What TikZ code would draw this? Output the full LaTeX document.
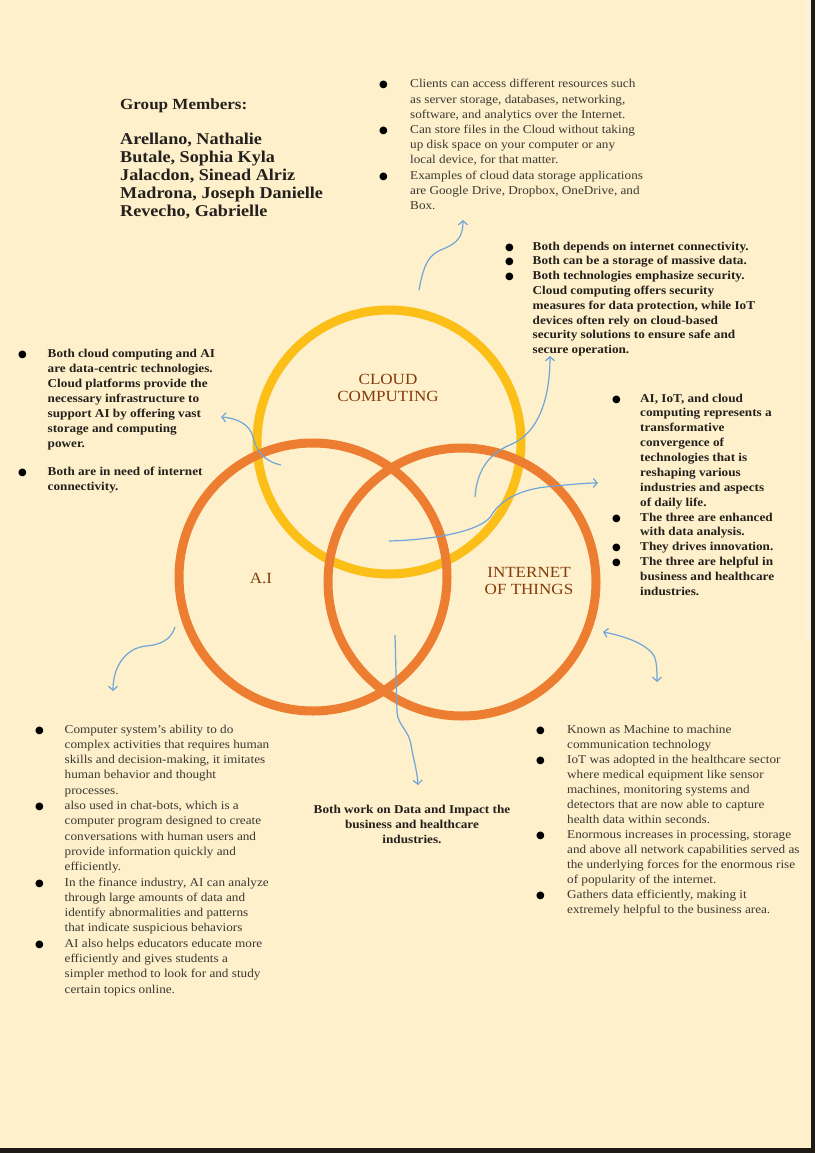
\documentclass[tikz,border=0pt]{standalone}
\usepackage{fontspec}
\setmainfont[FakeStretch=1.1]{Liberation Serif}
\newfontfamily\symfont{DejaVu Sans}
\usetikzlibrary{arrows.meta}

\definecolor{paper}{HTML}{FEF0CA}
\definecolor{strip}{HTML}{FBF2DA}
\definecolor{edge}{HTML}{1E1A16}
\definecolor{gold}{HTML}{FBBF17}
\definecolor{tangerine}{HTML}{ED7D31}
\definecolor{labelbrown}{HTML}{843C0C}
\definecolor{arrowblue}{HTML}{6FA5DA}
\definecolor{regtext}{HTML}{3B3834}
\definecolor{boldtext}{HTML}{23201D}

% big round list bullet, kept out of the line height
\newcommand\bul{\leavevmode\smash{\textcolor{black}{\symfont\fontsize{10}{10}\selectfont ●}}}

\begin{document}
\begin{tikzpicture}[x=1pt,y=-1pt,
  ring/.style={circle, draw, line width=9pt, inner sep=0pt, minimum size=#1},
  circlabel/.style={inner sep=0pt, anchor=base, text=labelbrown,
    font=\fontsize{15.5}{17}\selectfont},
  reglist/.style={inner sep=0pt, anchor=base west, text=regtext},
  boldlist/.style={inner sep=0pt, anchor=base west, text=boldtext},
  link/.style={draw=arrowblue, line width=1.2pt,
    arrows={-Straight Barb[length=4pt,width=9pt]}},
]
\useasboundingbox (0,0) rectangle (815,1153);

% page
\fill[paper] (0,0) rectangle (815,1153);
\fill[strip] (805,0) rectangle (811,640);
\fill[edge] (811,0) rectangle (815,1153);
\fill[edge] (0,1148) rectangle (815,1153);

% the three circles
\node[ring=264pt, draw=gold] (cloud) at (389,442) {};
\node[ring=268pt, draw=tangerine] (ai) at (313,577) {};
\node[ring=268pt, draw=tangerine] (iot) at (462,582) {};

% circle titles
\node[circlabel] (cloudtitle) at (388,384)
  {\begin{tabular}[t]{@{}c@{}}CLOUD\\COMPUTING\end{tabular}};
\node[circlabel] (aititle) at (261,583) {A.I};
\node[circlabel] (iottitle) at (529,577)
  {\begin{tabular}[t]{@{}c@{}}INTERNET\\OF THINGS\end{tabular}};

% group members
\node[boldlist, font=\bfseries\fontsize{16.5}{18}\selectfont] (members) at (120,110)
  {\begin{tabular}[t]{@{}l@{}}
   \fontsize{15.5}{18}\selectfont Group Members:\\[17pt]
   Arellano, Nathalie\\
   Butale, Sophia Kyla\\
   Jalacdon, Sinead Alriz\\
   Madrona, Joseph Danielle\\
   Revecho, Gabrielle
   \end{tabular}};

% cloud computing notes
\node[reglist, font=\fontsize{12}{15.2}\selectfont] (cloudnotes) at (379,88)
  {\begin{tabular}[t]{@{}p{31pt}@{}l@{}}
   \bul & Clients can access different resources such\\
        & as server storage, databases, networking,\\
        & software, and analytics over the Internet.\\
   \bul & Can store files in the Cloud without taking\\
        & up disk space on your computer or any\\
        & local device, for that matter.\\
   \bul & Examples of cloud data storage applications\\
        & are Google Drive, Dropbox, OneDrive, and\\
        & Box.
   \end{tabular}};

% cloud and IoT in common
\node[boldlist, font=\bfseries\fontsize{12}{14.8}\selectfont] (cloudiot) at (505,250)
  {\begin{tabular}[t]{@{}p{27.5pt}@{}l@{}}
   \bul & Both depends on internet connectivity.\\
   \bul & Both can be a storage of massive data.\\
   \bul & Both technologies emphasize security.\\
        & Cloud computing offers security\\
        & measures for data protection, while IoT\\
        & devices often rely on cloud-based\\
        & security solutions to ensure safe and\\
        & secure operation.
   \end{tabular}};

% cloud and AI in common
\node[boldlist, font=\bfseries\fontsize{12}{15.05}\selectfont] (cloudai) at (18,357)
  {\begin{tabular}[t]{@{}p{29.5pt}@{}l@{}}
   \bul & Both cloud computing and AI\\
        & are data-centric technologies.\\
        & Cloud platforms provide the\\
        & necessary infrastructure to\\
        & support AI by offering vast\\
        & storage and computing\\
        & power.\\[13pt]
   \bul & Both are in need of internet\\
        & connectivity.
   \end{tabular}};

% all three in common
\node[boldlist, font=\bfseries\fontsize{12}{14.88}\selectfont] (allthree) at (612,402)
  {\begin{tabular}[t]{@{}p{28pt}@{}l@{}}
   \bul & AI, IoT, and cloud\\
        & computing represents a\\
        & transformative\\
        & convergence of\\
        & technologies that is\\
        & reshaping various\\
        & industries and aspects\\
        & of daily life.\\
   \bul & The three are enhanced\\
        & with data analysis.\\
   \bul & They drives innovation.\\
   \bul & The three are helpful in\\
        & business and healthcare\\
        & industries.
   \end{tabular}};

% AI notes
\node[reglist, font=\fontsize{12}{15.3}\selectfont] (ainotes) at (35,733)
  {\begin{tabular}[t]{@{}p{29.5pt}@{}l@{}}
   \bul & Computer system’s ability to do\\
        & complex activities that requires human\\
        & skills and decision-making, it imitates\\
        & human behavior and thought\\
        & processes.\\
   \bul & also used in chat-bots, which is a\\
        & computer program designed to create\\
        & conversations with human users and\\
        & provide information quickly and\\
        & efficiently.\\
   \bul & In the finance industry, AI can analyze\\
        & through large amounts of data and\\
        & identify abnormalities and patterns\\
        & that indicate suspicious behaviors\\
   \bul & AI also helps educators educate more\\
        & efficiently and gives students a\\
        & simpler method to look for and study\\
        & certain topics online.
   \end{tabular}};

% AI and IoT in common
\node[boldlist, anchor=base, font=\bfseries\fontsize{12}{15}\selectfont] (aiiot) at (412,813)
  {\begin{tabular}[t]{@{}c@{}}
   Both work on Data and Impact the\\
   business and healthcare\\
   industries.
   \end{tabular}};

% IoT notes
\node[reglist, font=\fontsize{12}{15}\selectfont] (iotnotes) at (536,733)
  {\begin{tabular}[t]{@{}p{31pt}@{}l@{}}
   \bul & Known as Machine to machine\\
        & communication technology\\
   \bul & IoT was adopted in the healthcare sector\\
        & where medical equipment like sensor\\
        & machines, monitoring systems and\\
        & detectors that are now able to capture\\
        & health data within seconds.\\
   \bul & Enormous increases in processing, storage\\
        & and above all network capabilities served as\\
        & the underlying forces for the enormous rise\\
        & of popularity of the internet.\\
   \bul & Gathers data efficiently, making it\\
        & extremely helpful to the business area.
   \end{tabular}};

% connector end points
\coordinate (c1) at (419,290);  \coordinate (c2) at (463,220);
\coordinate (ca1) at (281,465); \coordinate (ca2) at (221,417);
\coordinate (ci1) at (475,497); \coordinate (ci2) at (550,356);
\coordinate (t1) at (389,541);  \coordinate (t2) at (598,483);
\coordinate (a1) at (175,627);  \coordinate (a2) at (113,691);
\coordinate (m1) at (395,635);  \coordinate (m2) at (418,785);
\coordinate (i1) at (603,632);  \coordinate (i2) at (657,682);

% connectors
\draw[link] (c1) .. controls (424,262) and (430,254) .. (443,249)
  .. controls (458,243) and (463,236) .. (c2);
\draw[link] (ca1) .. controls (263,461) and (256,450) .. (253,437)
  .. controls (250,424) and (236,418) .. (ca2);
\draw[link] (ci1) .. controls (477,467) and (492,452) .. (512,444)
  .. controls (535,434) and (550,405) .. (ci2);
\draw[link] (t1) .. controls (430,540) and (480,532) .. (491,516)
  .. controls (500,500) and (520,490) .. (545,487)
  .. controls (565,485) and (585,483) .. (t2);
\draw[link] (a1) .. controls (171,640) and (160,645) .. (146,646)
  .. controls (126,648) and (113,666) .. (a2);
\draw[link] (m1) -- (397,712) .. controls (398,726) and (409,730) .. (411,745)
  .. controls (414,762) and (417,770) .. (m2);
\draw[link, arrows={Straight Barb[length=4pt,width=9pt]-Straight Barb[length=4pt,width=9pt]}]
  (i1) .. controls (625,636) and (650,645) .. (655,658)
  .. controls (657,665) and (657,674) .. (i2);
\end{tikzpicture}
\end{document}
